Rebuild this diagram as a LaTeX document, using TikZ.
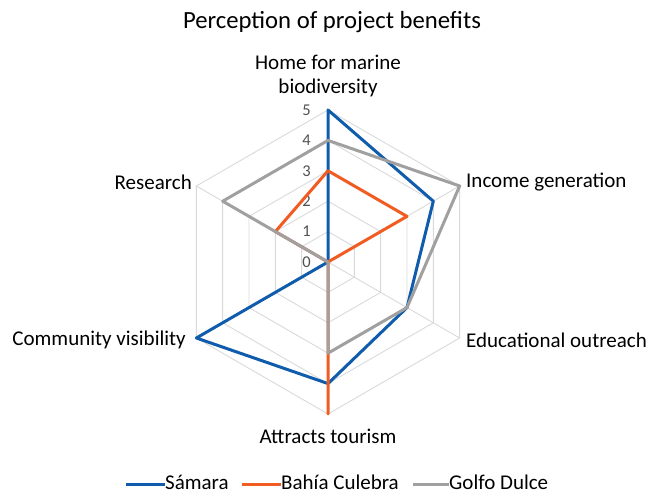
\documentclass[tikz,border=0pt]{standalone}
\usepackage{fontspec}
\setmainfont{Carlito}
\definecolor{samara}{RGB}{16,92,172}
\definecolor{bahia}{RGB}{240,92,34}
\definecolor{golfo}{RGB}{160,160,160}
\definecolor{gridc}{RGB}{217,217,217}
\definecolor{tickc}{RGB}{80,80,80}
\begin{document}
\begin{tikzpicture}[x=1bp,y=1bp,
  lab/.style={font=\fontsize{21bp}{24bp}\selectfont, inner sep=0pt, text=black},
  legtext/.style={lab, text depth=0pt, anchor=base west},
  titlestyle/.style={font=\fontsize{24.7bp}{28bp}\selectfont, inner sep=0pt},
  ticklab/.style={font=\fontsize{16.5bp}{18bp}\selectfont, inner sep=0pt, text=tickc, anchor=east},
  gridline/.style={draw=gridc, line width=0.9bp},
  series/.style={line width=3bp, line join=round},
  legline/.style={line width=3bp}]
\useasboundingbox (0,0) rectangle (649,494);
\def\u{30.4}
\coordinate (O) at (328,232);

% title
\node[titlestyle] (title) at (332,472) {Perception of project benefits};

\begin{scope}[shift={(O)}]
  % grid
  \foreach \k in {1,...,5}{
    \draw[gridline] (90:\k*\u) -- (30:\k*\u) -- (-30:\k*\u) -- (-90:\k*\u) -- (210:\k*\u) -- (150:\k*\u) -- cycle;
  }
  \foreach \a in {90,30,-30,-90,210,150}{
    \draw[gridline] (0,0) -- (\a:5*\u);
  }
  % tick labels
  \foreach \k in {0,...,5}{
    \node[ticklab] (tick\k) at (-17,\k*\u) {\k};
  }
  % series
  \draw[series, samara] (90:5*\u) -- (30:4*\u) -- (-30:3*\u) -- (-90:4*\u) -- (210:5*\u) -- (150:0) -- cycle;
  \draw[series, bahia] (90:3*\u) -- (30:3*\u) -- (-30:0) -- (-90:5*\u) -- (210:0) -- (150:2*\u) -- cycle;
  \draw[series, golfo] (90:4*\u) -- (30:5*\u) -- (-30:3*\u) -- (-90:3*\u) -- (210:0) -- (150:4*\u) -- cycle;
\end{scope}

% category labels
\node[lab, align=center] (home) at (328,418) {Home for marine\\biodiversity};
\node[lab, anchor=west] (income) at (466,312) {Income generation};
\node[lab, anchor=west] (edu) at (466,154) {Educational outreach};
\node[lab] (tourism) at (328,58) {Attracts tourism};
\node[lab, anchor=east] (community) at (186,154) {Community visibility};
\node[lab, anchor=east] (research) at (192,312) {Research};

% legend
\node[legtext] (legS) at (165,4) {Sámara};
\node[legtext] (legB) at (281,4) {Bahía Culebra};
\node[legtext] (legG) at (449,4) {Golfo Dulce};
\coordinate (legSa) at (126,9);
\coordinate (legBa) at (242,9);
\coordinate (legGa) at (413,9);
\draw[legline, samara] (legSa) -- (legS.west |- legSa);
\draw[legline, bahia] (legBa) -- (legB.west |- legBa);
\draw[legline, golfo] (legGa) -- (legG.west |- legGa);
\end{tikzpicture}
\end{document}
